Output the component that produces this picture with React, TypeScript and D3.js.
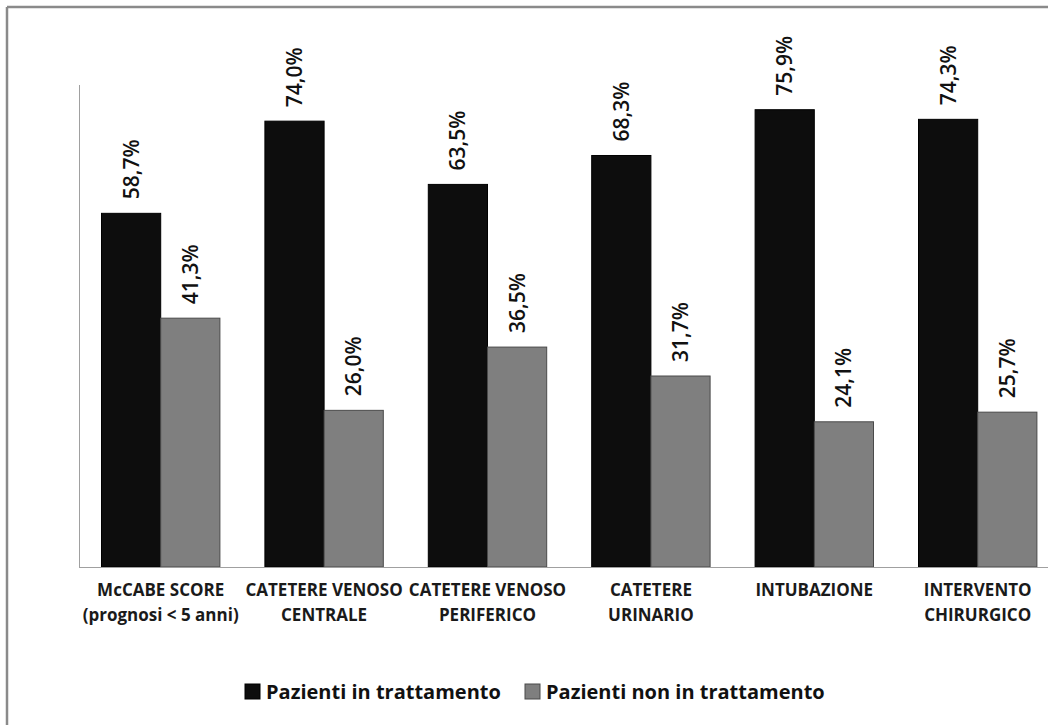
import React from "react";
import * as d3 from "d3";

const categories: string[][] = [
  ["McCABE SCORE", "(prognosi < 5 anni)"],
  ["CATETERE VENOSO", "CENTRALE"],
  ["CATETERE VENOSO", "PERIFERICO"],
  ["CATETERE", "URINARIO"],
  ["INTUBAZIONE"],
  ["INTERVENTO", "CHIRURGICO"],
];
const seriesNames = ["Pazienti in trattamento", "Pazienti non in trattamento"];
const treated = [58.7, 74.0, 63.5, 68.3, 75.9, 74.3];
const notTreated = [41.3, 26.0, 36.5, 31.7, 24.1, 25.7];
const colors = ["#0d0d0d", "#7f7f7f"];
const strokes = ["#000000", "#4a4a4a"];

const W = 1048;
const H = 725;
const FONT = "'Open Sans', 'DejaVu Sans', sans-serif";

export default function App() {
  const plotLeft = 79;
  const band = 163.4;
  const plotRight = plotLeft + band * categories.length;
  const baseY = 567;
  const topY = 85;

  const keys = categories.map((_, i) => String(i));
  const x0 = d3.scaleBand<string>().domain(keys).range([plotLeft, plotRight]).padding(0);
  const x1 = d3
    .scaleBand<number>()
    .domain([0, 1])
    .range([22.5, band - 22.5])
    .padding(0);
  const y = d3.scaleLinear().domain([0, 80]).range([baseY, topY]);

  const series = [treated, notTreated];
  const fmt = (v: number) => v.toFixed(1).replace(".", ",") + "%";

  return (
    <svg
      width={W}
      height={H}
      style={{ position: "absolute", left: 0, top: 0, background: "#fff" }}
      fontFamily={FONT}
    >
      <rect x={0} y={0} width={W} height={H} fill="#fff" />
      {/* outer border (cropped at right/bottom) */}
      <line x1={7} y1={7} x2={W} y2={7} stroke="#8a8a8a" strokeWidth={2.5} />
      <line x1={7} y1={7} x2={7} y2={H} stroke="#8a8a8a" strokeWidth={2.5} />

      {/* axes */}
      <line x1={plotLeft + 0.5} y1={topY} x2={plotLeft + 0.5} y2={baseY} stroke="#a0a0a0" strokeWidth={1} />

      {categories.map((cat, ci) => {
        const gx = x0(String(ci))!;
        return (
          <g key={ci}>
            {series.map((vals, si) => {
              const v = vals[ci];
              const bx = gx + x1(si)!;
              const bw = x1.bandwidth();
              const by = y(v);
              const cx = bx + bw / 2;
              return (
                <g key={si}>
                  <rect
                    x={bx}
                    y={by}
                    width={bw}
                    height={baseY - by}
                    fill={colors[si]}
                    stroke={strokes[si]}
                    strokeWidth={1}
                  />
                  <text
                    transform={`translate(${cx + 7.5},${by - 14}) rotate(-90)`}
                    fontSize={21}
                    fontWeight={600}
                    fill="#111"
                    textAnchor="start"
                  >
                    {fmt(v)}
                  </text>
                </g>
              );
            })}
            {cat.map((line, li) => (
              <text
                key={li}
                x={gx + band / 2}
                y={595.5 + li * 25}
                fontSize={17}
                fontWeight={700}
                fill="#1a1a1a"
                textAnchor="middle"
              >
                {line}
              </text>
            ))}
          </g>
        );
      })}

      <line x1={plotLeft} y1={baseY + 0.5} x2={W} y2={baseY + 0.5} stroke="#a0a0a0" strokeWidth={1} />

      {/* legend */}
      {seriesNames.map((name, i) => {
        const lx = [245, 525][i];
        return (
          <g key={name}>
            <rect x={lx} y={684} width={15} height={15} fill={colors[i]} stroke={strokes[i]} strokeWidth={1} />
            <text x={lx + 21} y={698.5} fontSize={20} fontWeight={700} fill="#111">
              {name}
            </text>
          </g>
        );
      })}
    </svg>
  );
}
